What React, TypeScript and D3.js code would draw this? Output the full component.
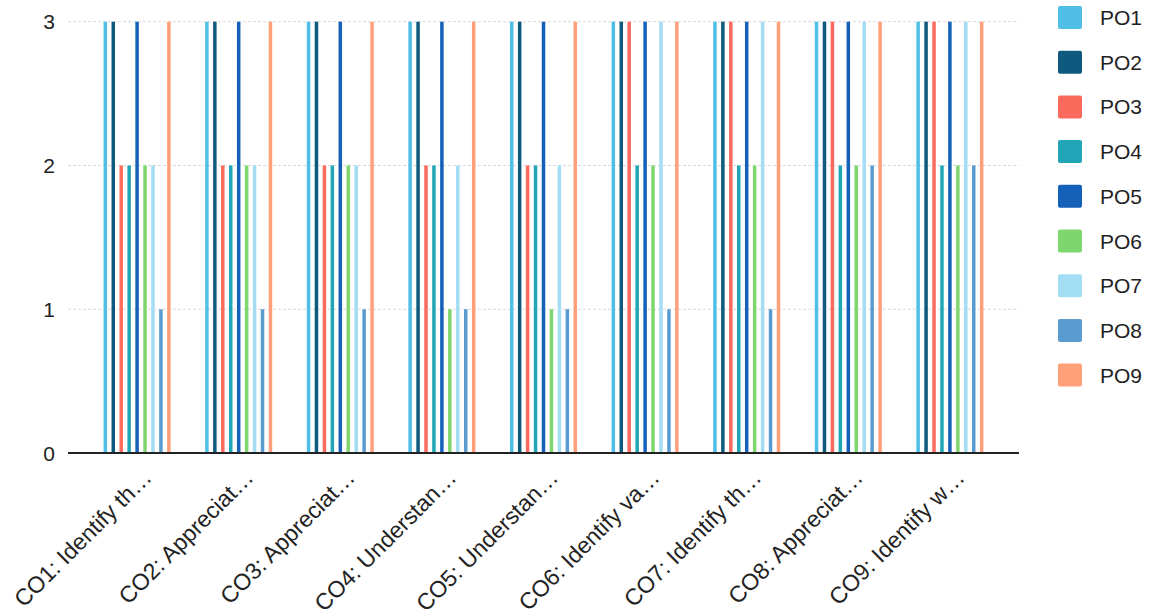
import React from "react";
import * as d3 from "d3";

const categories = [
  "CO1: Identify th…",
  "CO2: Appreciat…",
  "CO3: Appreciat…",
  "CO4: Understan…",
  "CO5: Understan…",
  "CO6: Identify va…",
  "CO7: Identify th…",
  "CO8: Appreciat…",
  "CO9: Identify w…",
];
const seriesNames = ["PO1", "PO2", "PO3", "PO4", "PO5", "PO6", "PO7", "PO8", "PO9"];
const PO1 = [3, 3, 3, 3, 3, 3, 3, 3, 3];
const PO2 = [3, 3, 3, 3, 3, 3, 3, 3, 3];
const PO3 = [2, 2, 2, 2, 2, 3, 3, 3, 3];
const PO4 = [2, 2, 2, 2, 2, 2, 2, 2, 2];
const PO5 = [3, 3, 3, 3, 3, 3, 3, 3, 3];
const PO6 = [2, 2, 2, 1, 1, 2, 2, 2, 2];
const PO7 = [2, 2, 2, 2, 2, 3, 3, 3, 3];
const PO8 = [1, 1, 1, 1, 1, 1, 1, 2, 2];
const PO9 = [3, 3, 3, 3, 3, 3, 3, 3, 3];
const seriesValues = [PO1, PO2, PO3, PO4, PO5, PO6, PO7, PO8, PO9];
const colors = ["#4fbfe8", "#0e5a7e", "#fb6a5c", "#20a6b6", "#1560b8", "#7fd66e", "#a3ddf3", "#5a9bd0", "#ffa07a"];
const yTicks = [0, 1, 2, 3];

const W = 1156;
const H = 615;
const left = 68;
const right = 1019;
const top = 21.7;
const bottom = 453;
const font = "'Liberation Sans', Arial, sans-serif";

export default function App() {
  const x0 = d3.scaleBand<string>().domain(categories).range([left, right]).paddingInner(0.34).paddingOuter(0.35);
  const x1 = d3.scaleBand<string>().domain(seriesNames).range([0, x0.bandwidth()]).paddingInner(0.56).paddingOuter(0);
  const y = d3.scaleLinear().domain([0, 3]).range([bottom, top]);

  return (
    <svg width={W} height={H} style={{ position: "absolute", left: 0, top: 0, background: "#fff" }} fontFamily={font}>
      {yTicks.filter((t) => t > 0).map((t) => (
        <line key={"g" + t} x1={left} x2={right} y1={y(t)} y2={y(t)} stroke="#d9d9d9" strokeWidth={1} strokeDasharray="3,2" />
      ))}
      {yTicks.map((t) => (
        <text key={"yt" + t} x={55} y={y(t)} dy="0.36em" textAnchor="end" fontSize={21} fill="#222">
          {t}
        </text>
      ))}
      {categories.map((c, i) => (
        <g key={c} transform={`translate(${x0(c)},0)`}>
          {seriesNames.map((s, j) => {
            const v = seriesValues[j][i];
            if (!v) return null;
            return (
              <rect key={s} x={x1(s)} y={y(v)} width={x1.bandwidth()} height={y(0) - y(v)} fill={colors[j]} />
            );
          })}
        </g>
      ))}
      <line x1={left} x2={right} y1={bottom} y2={bottom} stroke="#222" strokeWidth={2} />
      {categories.map((c) => {
        const cx = (x0(c) as number) + x0.bandwidth() / 2 + 16;
        return (
          <text key={"xl" + c} transform={`translate(${cx},${bottom + 26}) rotate(-45)`} textAnchor="end" fontSize={23} fill="#222">
            {c}
          </text>
        );
      })}
      {seriesNames.map((s, j) => (
        <g key={"lg" + s} transform={`translate(1058,${6 + j * 44.7})`}>
          <rect width={24} height={23} rx={2} fill={colors[j]} />
          <text x={42} y={11.5} dy="0.36em" fontSize={21} fill="#222">
            {s}
          </text>
        </g>
      ))}
    </svg>
  );
}
